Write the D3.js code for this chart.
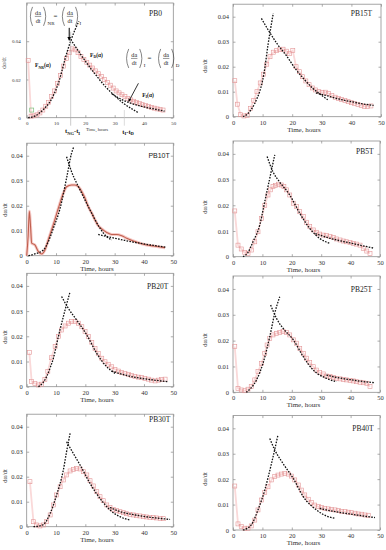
<!DOCTYPE html>
<html><head><meta charset="utf-8">
<script src="https://cdn.jsdelivr.net/npm/d3@7"></script>
<style>body{margin:0;background:#fff} svg{display:block}</style>
</head><body>
<svg id="c" width="386" height="550"></svg>
<script>
// ---------- data ----------
const panelNames = ["PB0","PB15T","PB10T","PB5T","PB20T","PB25T","PB30T","PB40T"];
const xTicks = [0,10,20,30,40,50];
const yTicksMain = [0,0.01,0.02,0.03,0.04];
const yTicksPB0 = [0,0.02,0.04];
const xAxisTitle = "Time, hours";
const yAxisTitle = "dα/dt";

const pb0Obs = [[0.5,0.030],[1.5,0.0008],[2.5,0.001],[3.5,0.0015],[4.5,0.0025],[5.5,0.004],[6.5,0.006],[7.5,0.008],[8.5,0.011],[9.5,0.014],[10.5,0.018],[11.5,0.022],[12.5,0.027],[13.5,0.031],[14.5,0.034],[15.5,0.036],[16.5,0.0355],[17.5,0.034],[18.5,0.032],[19.5,0.0305],[20.5,0.029],[21.5,0.0275],[22.5,0.026],[23.5,0.0245],[24.5,0.023],[25.5,0.0215],[26.5,0.020],[27.5,0.0185],[28.5,0.017],[29.5,0.0155],[30.5,0.014],[31.5,0.013],[32.5,0.012],[33.5,0.011],[34.5,0.010],[35.5,0.0093],[36.5,0.0086],[37.5,0.008],[38.5,0.0074],[39.5,0.0068],[40.5,0.0063],[41.5,0.0058],[42.5,0.0054],[43.5,0.005],[44.5,0.0046],[45.5,0.0043],[46.5,0.004]];
const pb0Green = [[1.7,0.004]];
const pb0NG = [[0.5,0],[3,0.001],[5.5,0.004],[8,0.0085],[10.8,0.018],[13.7,0.034],[15.2,0.041],[17.8,0.0505]];
const pb0D = [[15,0.041],[18,0.034],[21,0.0275],[24,0.0215],[27,0.016],[30,0.0115],[33,0.0075],[36,0.0045],[38,0.0027]];
const pb0I = [[29,0.0125],[32,0.0098],[35,0.0078],[38,0.0064],[41,0.0053],[44,0.0044],[47,0.0034]];

const pb15Obs = [[0.6,0.0144],[1.5,0.0050],[2.6,0.0008],[3.7,0.0003],[4.8,0.0005],[5.9,0.0033],[7.0,0.0065],[8.1,0.0100],[9.2,0.0135],[10.3,0.0170],[11.4,0.0210],[12.5,0.0240],[13.6,0.0258],[14.7,0.0264],[15.8,0.0268],[16.9,0.0270],[18.0,0.0262],[19.1,0.0252],[20.2,0.0265],[21.3,0.0200],[22.4,0.0180],[23.5,0.0160],[24.6,0.0143],[25.7,0.0128],[26.8,0.0115],[27.9,0.0107],[29.0,0.0100],[30.1,0.0097],[31.2,0.0098],[32.3,0.0093],[33.4,0.0085],[34.5,0.0078],[35.6,0.0073],[36.7,0.0069],[37.8,0.0065],[38.9,0.0060],[40.0,0.0056],[41.1,0.0053],[42.2,0.0049],[43.3,0.0045],[44.4,0.0041],[45.5,0.0041],[46.6,0.0043]];
const pb15NG = [[3.4,0],[5,0.0012],[6.5,0.0035],[8,0.007],[9.5,0.012],[10.5,0.0175],[11.8,0.0285],[13.6,0.0413]];
const pb15D = [[9.6,0.0393],[12,0.0345],[15,0.029],[18,0.0245],[21,0.0193],[24,0.015],[27,0.0113],[30,0.0085],[32,0.0068]];
const pb15I = [[28,0.0095],[32,0.0083],[36,0.0070],[40,0.0060],[44,0.0051],[47.5,0.0045]];

const pb10Obs = [[0,0],[0.5,0.008],[0.9,0.0178],[1.3,0.012],[1.7,0.005],[2.8,0.0043],[4,0.0016],[5.1,0.0007],[6.3,0.0025],[7.4,0.0065],[9.1,0.0125],[10.8,0.019],[12.5,0.025],[13.6,0.0276],[15.3,0.0283],[16.5,0.0283],[17.6,0.0276],[18.8,0.0256],[19.9,0.023],[21,0.0196],[22.2,0.017],[23.3,0.0143],[24.4,0.012],[25.6,0.0107],[27.3,0.0093],[29,0.0085],[30.7,0.0085],[32.4,0.008],[34.1,0.007],[36.4,0.0059],[38.6,0.005],[40.9,0.0043],[43.2,0.0039],[45.5,0.0035],[47.2,0.0032]];
const pb10NG = [[0.6,0],[3,0.0008],[5.7,0.0023],[7.5,0.006],[9.1,0.011],[11.4,0.019],[13.6,0.031],[15.3,0.041],[16.1,0.0436]];
const pb10D = [[13.6,0.0396],[15.3,0.0336],[18.2,0.0263],[21.6,0.0183],[25,0.011],[27.3,0.0076],[29,0.0063]];
const pb10I = [[24.4,0.0085],[28,0.0075],[32,0.0065],[36,0.0055],[40,0.0047],[44,0.004],[47.5,0.0034]];

const pb5Obs = [[0.6,0.0178],[1.7,0.0045],[2.8,0.003],[4,0.0016],[5.1,0.0013],[6.3,0.0026],[7.4,0.0058],[8.5,0.0097],[9.7,0.0149],[10.8,0.020],[11.9,0.024],[12.7,0.026],[13.6,0.0273],[14.5,0.0277],[15.5,0.0282],[16.4,0.0279],[17.3,0.0273],[18.2,0.026],[19.3,0.024],[20.5,0.0208],[21.6,0.0195],[22.7,0.0175],[23.9,0.0156],[25,0.0134],[26.1,0.0117],[27.3,0.0104],[28.4,0.0095],[29.5,0.0088],[30.7,0.0084],[31.8,0.0082],[33,0.0078],[34.1,0.0074],[35.2,0.0069],[36.4,0.0065],[37.5,0.0061],[38.6,0.0058],[39.8,0.0056],[40.9,0.0052],[42,0.0049],[43.2,0.0045],[44.3,0.0032],[45.5,0.0022],[46.6,0.0013]];
const pb5NG = [[3.4,0],[5,0.0015],[6.8,0.0058],[9.1,0.0123],[10.8,0.0214],[12.5,0.0305],[14.2,0.0396]];
const pb5D = [[11.6,0.039],[13.6,0.033],[15.9,0.029],[19.3,0.024],[22.7,0.0169],[26.1,0.011],[29.5,0.0071],[33,0.0052]];
const pb5I = [[28,0.009],[32,0.0075],[36,0.0063],[40,0.0053],[44,0.0043],[48,0.0033]];

const pb20Obs = [[0.9,0.0135],[1.7,0.002],[2.8,0.0013],[4,0.0007],[5.1,0.001],[6.2,0.0029],[7.2,0.006],[8.4,0.0115],[9.7,0.0159],[10.8,0.0199],[11.9,0.0225],[13.1,0.0241],[14.2,0.0252],[15.3,0.0258],[16.5,0.0258],[17.6,0.0252],[18.8,0.0238],[19.9,0.0219],[21,0.0199],[22.2,0.0175],[23.3,0.0152],[24.4,0.0132],[25.6,0.0113],[26.7,0.0099],[27.8,0.0089],[29,0.0079],[30.1,0.0069],[31.3,0.0062],[32.4,0.0057],[33.5,0.0053],[34.7,0.0049],[35.8,0.0045],[36.9,0.0041],[38.1,0.0038],[39.2,0.0036],[40.3,0.0033],[41.5,0.003],[42.6,0.0026],[43.8,0.0023],[44.9,0.0026],[46,0.0029],[47.2,0.003]];
const pb20NG = [[4,0],[5.5,0.0015],[6.8,0.004],[8,0.0075],[9.1,0.0113],[10.8,0.0199],[13.1,0.0305],[14.8,0.0377]];
const pb20D = [[11.9,0.0358],[14.2,0.0311],[17,0.0265],[20.5,0.0205],[23.9,0.0132],[27.3,0.0079],[30.1,0.0053]];
const pb20I = [[29,0.0062],[33,0.0048],[37,0.0037],[41,0.003],[45,0.0024],[48,0.002]];

const pb25Obs = [[0.6,0.0177],[1.7,0.0015],[2.8,0.0009],[4,0.0006],[5.1,0.0012],[6.2,0.0022],[7.4,0.0048],[8.5,0.008],[9.7,0.0112],[10.8,0.0151],[11.6,0.0183],[12.5,0.0209],[13.6,0.0222],[14.8,0.0228],[15.9,0.0231],[17,0.0235],[18.2,0.0231],[19.3,0.0222],[20.5,0.0203],[21.6,0.019],[22.7,0.017],[23.9,0.0151],[25,0.0132],[26.1,0.0115],[27.3,0.0099],[28.4,0.0086],[29.5,0.0076],[30.7,0.0071],[31.8,0.0063],[33,0.0061],[34.1,0.0057],[35.2,0.0053],[36.4,0.0052],[37.5,0.005],[38.6,0.0048],[39.8,0.0045],[40.9,0.0044],[42,0.0041],[43.2,0.0039],[44.3,0.0037],[45.5,0.0035],[46.6,0.0022]];
const pb25NG = [[4.5,0],[6,0.0015],[8,0.0048],[10.2,0.0112],[12.5,0.0215],[14.2,0.0306],[15.9,0.037]];
const pb25D = [[12.8,0.0338],[14.8,0.0286],[17,0.0248],[20.5,0.0203],[23.9,0.0138],[27.3,0.0086],[31.8,0.0054],[35.2,0.0041]];
const pb25I = [[31.8,0.0067],[35,0.0058],[38,0.0052],[41,0.0047],[44,0.0042],[48.3,0.0037]];

const pb30Obs = [[1.1,0.018],[2.3,0.002],[3.4,0.0007],[4.5,0.0003],[5.7,0.0007],[6.8,0.002],[8,0.0047],[9.1,0.0087],[10.2,0.0127],[11.4,0.016],[12.5,0.0187],[13.6,0.0207],[14.8,0.0223],[15.9,0.0229],[17,0.0233],[18.2,0.0231],[19.3,0.022],[20.5,0.0207],[21.6,0.0184],[22.7,0.0163],[23.9,0.014],[25,0.012],[26.1,0.0104],[27.3,0.0087],[28.4,0.0077],[29.5,0.0069],[30.7,0.0064],[31.8,0.006],[33,0.0056],[34.1,0.0052],[35.2,0.0049],[36.4,0.0047],[37.5,0.0044],[38.6,0.0043],[39.8,0.004],[40.9,0.0039],[42,0.0037],[43.2,0.0036],[44.3,0.0035],[45.5,0.0033],[46.6,0.0032]];
const pb30NG = [[2.3,0],[4,0.0002],[5.7,0.0009],[8,0.0053],[10.2,0.0127],[12.5,0.0227],[13.6,0.030],[14.8,0.0373]];
const pb30D = [[13.6,0.034],[15.9,0.0293],[18.2,0.0247],[21.6,0.0173],[25,0.0113],[28.4,0.0067],[31.8,0.004],[35.2,0.0027]];
const pb30I = [[28.4,0.0077],[32,0.006],[36,0.0049],[40,0.0041],[44,0.0035],[48.9,0.0029]];

const pb40Obs = [[0.6,0.0173],[1.7,0.0024],[2.8,0.0013],[4,0.0007],[5.1,0.0007],[6.2,0.0016],[7.4,0.0039],[8.5,0.0079],[9.7,0.0118],[10.8,0.0147],[11.9,0.017],[13.1,0.0197],[14.2,0.021],[15.3,0.0216],[16.5,0.022],[17.6,0.0223],[18.8,0.022],[19.9,0.0212],[21,0.0197],[22.2,0.0177],[23.3,0.0157],[24.4,0.0138],[25.6,0.0121],[26.7,0.0108],[27.8,0.0098],[29,0.0092],[30.1,0.0088],[31.2,0.0085],[32.4,0.0083],[33.5,0.0081],[34.7,0.0079],[35.8,0.0076],[36.9,0.0073],[38.1,0.0072],[39.2,0.007],[40.3,0.0068],[41.5,0.0066],[42.6,0.0063],[43.8,0.0062],[44.9,0.0059],[46,0.0058]];
const pb40NG = [[3.4,0],[6.2,0.002],[8.5,0.0079],[10.8,0.0157],[13.1,0.0262],[15.3,0.0374]];
const pb40D = [[12.5,0.036],[14.2,0.0315],[17,0.0262],[20.5,0.0203],[23.9,0.0131],[28.4,0.0079],[31.8,0.0055],[34.7,0.0046]];
const pb40I = [[29.5,0.0085],[33,0.0076],[37,0.0068],[41,0.0061],[45,0.0054],[48.3,0.0049]];

// ---------- assembly ----------
const series = {
  PB0:{obs:pb0Obs,ng:pb0NG,d:pb0D,i:pb0I},
  PB15T:{obs:pb15Obs,ng:pb15NG,d:pb15D,i:pb15I},
  PB10T:{obs:pb10Obs,ng:pb10NG,d:pb10D,i:pb10I,asLine:true},
  PB5T:{obs:pb5Obs,ng:pb5NG,d:pb5D,i:pb5I},
  PB20T:{obs:pb20Obs,ng:pb20NG,d:pb20D,i:pb20I},
  PB25T:{obs:pb25Obs,ng:pb25NG,d:pb25D,i:pb25I},
  PB30T:{obs:pb30Obs,ng:pb30NG,d:pb30D,i:pb30I},
  PB40T:{obs:pb40Obs,ng:pb40NG,d:pb40D,i:pb40I}
};
const layout = {
  PB0:  {x0:26.7,x1:173.3,yTop:3,    yBot:117.7,ymax:0.06, fs:5,  lab:[11.3,13],  ylx:4,   yly:63,  tp:3.9, lp:6},
  PB15T:{x0:233, x1:381,  yTop:4.2,  yBot:116.7,ymax:0.045,fs:6.5,lab:[9,12],     ylx:205, yly:66,  tp:3.5, lp:4},
  PB10T:{x0:26.7,x1:173.3,yTop:143.2,yBot:255.7,ymax:0.045,fs:6.5,lab:[3.5,14.3], ylx:5,   yly:210, tp:3.5, lp:4, sans:true},
  PB5T: {x0:233, x1:380,  yTop:141,  yBot:256.7,ymax:0.045,fs:6.5,lab:[6.5,13],   ylx:205, yly:207, tp:3.5, lp:4},
  PB20T:{x0:26.7,x1:173.3,yTop:273.3,yBot:386.7,ymax:0.045,fs:6.5,lab:[5,15.7],   ylx:5,   yly:337, tp:3.5, lp:4},
  PB25T:{x0:233, x1:380,  yTop:276,  yBot:392.3,ymax:0.045,fs:6.5,lab:[8,15.5],   ylx:205, yly:340, tp:3.5, lp:4},
  PB30T:{x0:26.7,x1:173.3,yTop:414.2,yBot:526.7,ymax:0.045,fs:6.5,lab:[3,7.8],    ylx:5,   yly:476, tp:3.5, lp:4},
  PB40T:{x0:233, x1:380,  yTop:415.6,yBot:530,  ymax:0.045,fs:6.5,lab:[6.5,15.4], ylx:205, yly:479, tp:3.5, lp:4}
};
const SERIF = "Liberation Serif, Times New Roman, serif";
const SANS = "Liberation Sans, Arial, sans-serif";
const svg = d3.select("#c");
svg.append("rect").attr("width",386).attr("height",550).attr("fill","#fff");
const defs = svg.append("defs");
defs.append("marker").attr("id","ah").attr("viewBox","0 0 10 10").attr("refX",9).attr("refY",5)
  .attr("markerWidth",4).attr("markerHeight",4).attr("orient","auto")
  .append("path").attr("d","M0,0L10,5L0,10z").attr("fill","#000");

const fmt = d => d===0 ? "0" : d3.format(".2f")(d);

function drawPanel(name){
  const L = layout[name], S = series[name];
  const x = d3.scaleLinear().domain([0,50]).range([L.x0,L.x1]);
  const y = d3.scaleLinear().domain([0,L.ymax]).range([L.yBot,L.yTop]);
  const g = svg.append("g");
  const yt = name==="PB0" ? yTicksPB0 : yTicksMain;
  const styleAx = (a, keep) => {
    a.select(".domain").remove();
    a.selectAll("line").attr("stroke","#8a8a8a").attr("stroke-width",0.7);
    a.selectAll("text").attr("font-family",SERIF).attr("font-size",L.fs).attr("fill","#333");
    if(!keep) a.selectAll("text").remove();
  };
  styleAx(g.append("g").attr("transform",`translate(0,${L.yBot})`)
    .call(d3.axisBottom(x).tickValues(xTicks).tickSizeInner(-2.5).tickSizeOuter(0).tickPadding(L.tp)), true);
  styleAx(g.append("g").attr("transform",`translate(0,${L.yTop})`)
    .call(d3.axisTop(x).tickValues(xTicks).tickSizeInner(-2.5).tickSizeOuter(0)), false);
  styleAx(g.append("g").attr("transform",`translate(${L.x0},0)`)
    .call(d3.axisLeft(y).tickValues(yt).tickFormat(fmt).tickSizeInner(-2.5).tickSizeOuter(0).tickPadding(L.lp)), true);
  styleAx(g.append("g").attr("transform",`translate(${L.x1},0)`)
    .call(d3.axisRight(y).tickValues(yt).tickSizeInner(-2.5).tickSizeOuter(0)), false);
  g.append("rect").attr("x",L.x0).attr("y",L.yTop).attr("width",L.x1-L.x0).attr("height",L.yBot-L.yTop)
    .attr("fill","none").attr("stroke","#8f8f8f").attr("stroke-width",0.8);

  // observed data
  const obsLine = d3.line().x(d=>x(d[0])).y(d=>y(d[1]));
  if(S.asLine){
    const ml = obsLine.curve(d3.curveMonotoneX);
    g.append("path").datum(S.obs).attr("d",ml).attr("fill","none").attr("stroke","#f6cac7").attr("stroke-width",3);
    g.append("path").datum(S.obs).attr("d",ml).attr("fill","none").attr("stroke","#c05f4e").attr("stroke-width",1.1);
  } else {
    g.append("path").datum(S.obs).attr("d",obsLine).attr("fill","none").attr("stroke","#fad9d9").attr("stroke-width",1.8);
    g.selectAll("rect.m").data(S.obs).join("rect").attr("class","m")
      .attr("x",d=>x(d[0])-2).attr("y",d=>y(d[1])-2).attr("width",4).attr("height",4)
      .attr("fill","none").attr("stroke","#e39495").attr("stroke-width",0.6);
  }
  if(name==="PB0"){
    g.selectAll("rect.gm").data(pb0Green).join("rect").attr("class","gm")
      .attr("x",d=>x(d[0])-2).attr("y",d=>y(d[1])-2).attr("width",4).attr("height",4)
      .attr("fill","none").attr("stroke","#7cbf7c").attr("stroke-width",0.7);
  }
  // fits
  const fitLine = d3.line().x(d=>x(d[0])).y(d=>y(d[1])).curve(d3.curveMonotoneX);
  [S.ng,S.d,S.i].forEach(arr=>{
    g.append("path").datum(arr).attr("d",fitLine).attr("fill","none").attr("stroke","#111")
      .attr("stroke-width",1.3).attr("stroke-dasharray","1.6,1.3");
  });
  // panel label
  g.append("text").attr("x",L.x1-L.lab[0]).attr("y",L.yTop+L.lab[1]).attr("text-anchor","end")
    .attr("font-family",L.sans?SANS:SERIF).attr("font-size",L.sans?7:7.5).attr("fill","#222").text(name);
  // axis titles
  const tfs = name==="PB0" ? 4.6 : 7;
  g.append("text").attr("x",(L.x0+L.x1)/2 - 3).attr("y",L.yBot + (name==="PB0"?13.5:15)).attr("text-anchor","middle")
    .attr("font-family",SERIF).attr("font-size",tfs).attr("fill","#333").text(xAxisTitle);
  g.append("text").attr("transform",`translate(${L.ylx},${L.yly}) rotate(-90)`).attr("text-anchor","middle")
    .attr("dy","0.35em").attr("font-family",SERIF).attr("font-size",name==="PB0"?5.5:6.5).attr("fill","#333").text(yAxisTitle);
  return {g,x,y,L};
}

const P = {};
panelNames.forEach(n => P[n] = drawPanel(n));

// ---------- PB0 annotations ----------
(function(){
  const {g,x,y,L} = P.PB0;
  g.append("line").attr("x1",x(15)).attr("x2",x(15)).attr("y1",y(0.045)).attr("y2",L.yBot+8)
    .attr("stroke","#a8a8a8").attr("stroke-width",0.6);
  g.append("line").attr("x1",x(33.3)).attr("x2",x(33.3)).attr("y1",y(0.004)).attr("y2",L.yBot+8)
    .attr("stroke","#c4c4c4").attr("stroke-width",0.6);
  function dadt(gx, gy, sub){
    const a = g.append("g").attr("font-family",SERIF).attr("fill","#222");
    a.append("path").attr("d",`M${gx+3.5},${gy-9.5}Q${gx-0.8},${gy} ${gx+3.5},${gy+9.5}`).attr("fill","none").attr("stroke","#333").attr("stroke-width",0.6);
    a.append("path").attr("d",`M${gx+14.5},${gy-9.5}Q${gx+18.8},${gy} ${gx+14.5},${gy+9.5}`).attr("fill","none").attr("stroke","#333").attr("stroke-width",0.6);
    a.append("text").attr("x",gx+9).attr("y",gy-1.6).attr("text-anchor","middle").attr("font-size",6.2).text("da");
    a.append("line").attr("x1",gx+5.8).attr("x2",gx+12.2).attr("y1",gy).attr("y2",gy).attr("stroke","#333").attr("stroke-width",0.5);
    a.append("text").attr("x",gx+9).attr("y",gy+6.3).attr("text-anchor","middle").attr("font-size",6.2).text("dt");
    a.append("text").attr("x",gx+18.5).attr("y",gy+8.5).attr("font-size",5).text(sub);
  }
  function eq(cx, gy){
    g.append("text").attr("x",cx).attr("y",gy+2).attr("text-anchor","middle").attr("font-family",SERIF).attr("font-size",7).attr("fill","#222").text("=");
  }
  dadt(x(0.8), y(0.053), "NR"); eq(x(9.8), y(0.053)); dadt(x(11.7), y(0.053), "I");
  dadt(x(33.6), y(0.031), "I"); eq(x(41.9), y(0.031)); dadt(x(44.5), y(0.031), "D");
  g.append("line").attr("x1",x(14.5)).attr("y1",y(0.047)).attr("x2",x(14.5)).attr("y2",y(0.0405))
    .attr("stroke","#000").attr("stroke-width",1).attr("marker-end","url(#ah)");
  g.append("line").attr("x1",x(38.1)).attr("y1",y(0.018)).attr("x2",x(34.8)).attr("y2",y(0.0085))
    .attr("stroke","#000").attr("stroke-width",0.8).attr("marker-end","url(#ah)");
  function flabel(px, py, sub, fs){
    const t = g.append("text").attr("x",px).attr("y",py).attr("font-family",SERIF).attr("font-weight","bold").attr("font-size",fs).attr("fill","#111");
    t.append("tspan").text("F");
    t.append("tspan").attr("font-size",fs*0.7).attr("dy",fs*0.25).text(sub);
    t.append("tspan").attr("dy",-fs*0.25).text("(α)");
  }
  flabel(x(2.85), y(0.0264), "NR", 5.5);
  flabel(x(21.6), y(0.032), "D", 5.5);
  flabel(x(39.4), y(0.0109), "I", 5.5);
  function tlabel(px, py, a, b){
    const t = g.append("text").attr("x",px).attr("y",py).attr("font-family",SERIF).attr("font-weight","bold").attr("font-size",6.5).attr("fill","#111");
    t.append("tspan").text("t");
    t.append("tspan").attr("font-size",4.5).attr("dy",1.5).text(a);
    t.append("tspan").attr("dy",-1.5).text("-t");
    t.append("tspan").attr("font-size",4.5).attr("dy",1.5).text(b);
  }
  tlabel(x(13.1), L.yBot+15.3, "NG", "I");
  tlabel(x(32.6), L.yBot+15.8, "I", "D");
})();
</script>
</body></html>
